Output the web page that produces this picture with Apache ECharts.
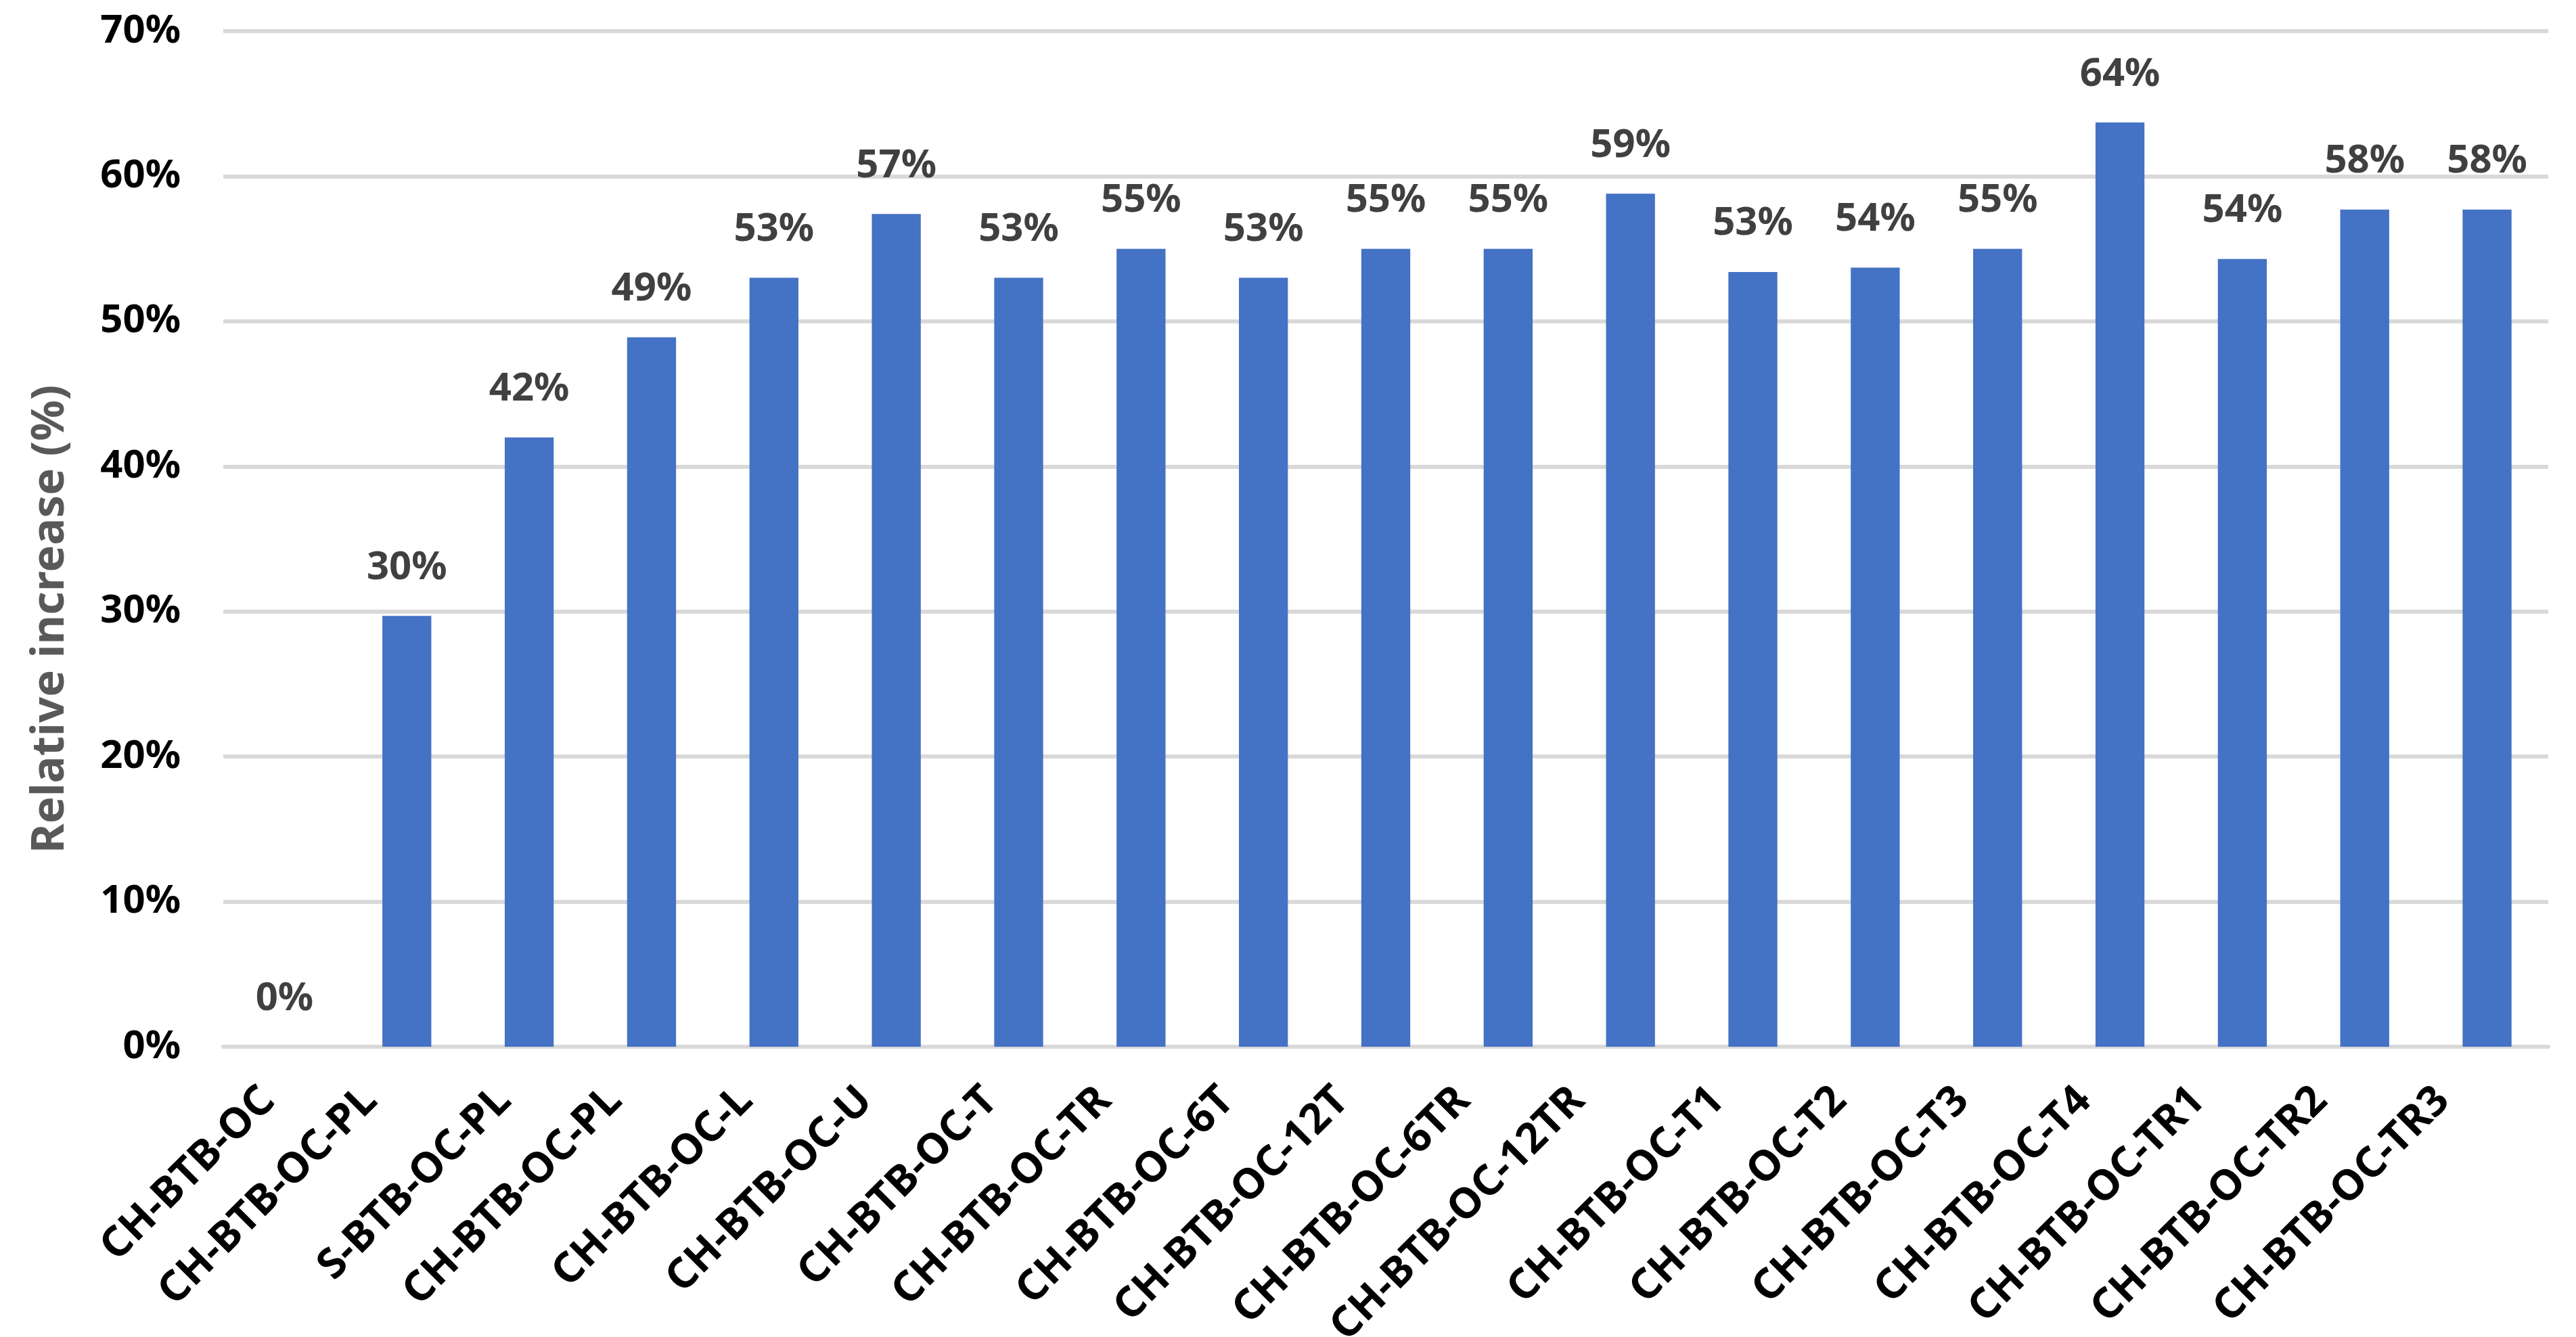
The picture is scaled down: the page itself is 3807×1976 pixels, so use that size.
<!DOCTYPE html>
<html>
<head>
<meta charset="utf-8">
<style>
  html, body { margin: 0; padding: 0; background: #fff; }
  #chart { width: 3807px; height: 1976px; }
</style>
<script src="https://cdn.jsdelivr.net/npm/echarts@6/dist/echarts.min.js"></script>
</head>
<body>
<div id="chart"></div>
<script>
// categories (x axis)
var categories = [
  'CH-BTB-OC', 'CH-BTB-OC-PL', 'S-BTB-OC-PL', 'CH-BTB-OC-PL', 'CH-BTB-OC-L',
  'CH-BTB-OC-U', 'CH-BTB-OC-T', 'CH-BTB-OC-TR', 'CH-BTB-OC-6T', 'CH-BTB-OC-12T',
  'CH-BTB-OC-6TR', 'CH-BTB-OC-12TR', 'CH-BTB-OC-T1', 'CH-BTB-OC-T2', 'CH-BTB-OC-T3',
  'CH-BTB-OC-T4', 'CH-BTB-OC-TR1', 'CH-BTB-OC-TR2', 'CH-BTB-OC-TR3'
];
// relative increase, %
var increase = [
  0, 29.7, 42.0, 48.9, 53.0,
  57.4, 53.0, 55.0, 53.0, 55.0,
  55.0, 58.8, 53.4, 53.7, 55.0,
  63.7, 54.3, 57.7, 57.7
];
// y axis ticks
var yMin = 0, yMax = 70, yStep = 10;

var labelFont = 62;

// excel shifts longer rotated labels further left; mimic with per-label padding
var ctx = document.createElement('canvas').getContext('2d');
ctx.font = 'bold ' + labelFont + 'px "Noto Sans"';
var rich = {};
categories.forEach(function (c, i) {
  var w = ctx.measureText(c).width;
  var dx = 83 - 0.32 * w;          // wanted left shift
  var p = Math.max(0, -dx / 1.414);
  rich['c' + i] = { padding: [0, p, 2 * p, 0] };
});

var chart = echarts.init(document.getElementById('chart'));

var option = {
  backgroundColor: '#ffffff',
  animation: false,
  textStyle: { fontFamily: 'Noto Sans' },
  grid: {
    left: 330, right: 41, top: 46, bottom: 429,
    containLabel: false,
    outerBoundsMode: 'none'
  },
  graphic: [{
    type: 'text',
    x: 75, y: 915,
    rotation: Math.PI / 2,
    style: {
      text: 'Relative increase (%)',
      fontFamily: 'Noto Sans',
      fontWeight: 'bold',
      fontSize: 67,
      fill: '#595959',
      align: 'center',
      verticalAlign: 'middle'
    }
  }],
  xAxis: {
    type: 'category',
    data: categories,
    axisLine: { lineStyle: { color: '#D9D9D9', width: 6 } },
    axisTick: { show: false },
    axisLabel: {
      interval: 0,
      rotate: 45,
      margin: 70,
      color: '#000000',
      fontWeight: 'bold',
      fontSize: labelFont,
      formatter: function (v, i) { return '{c' + i + '|' + v + '}'; },
      rich: rich
    }
  },
  yAxis: {
    type: 'value',
    min: yMin, max: yMax, interval: yStep,
    axisLine: { show: false },
    axisTick: { show: false },
    splitLine: { lineStyle: { color: '#D9D9D9', width: 6 } },
    axisLabel: {
      margin: 63,
      color: '#000000',
      fontWeight: 'bold',
      fontSize: 58,
      formatter: function (v) { return v + '%'; }
    }
  },
  series: [{
    type: 'bar',
    data: increase,
    barWidth: '40%',
    itemStyle: { color: '#4472C4' },
    label: {
      show: true,
      position: 'top',
      distance: 42,
      color: '#404040',
      fontWeight: 'bold',
      fontSize: 58,
      formatter: function (p) { return Math.round(p.value) + '%'; }
    }
  }]
};

chart.setOption(option);
</script>
</body>
</html>
